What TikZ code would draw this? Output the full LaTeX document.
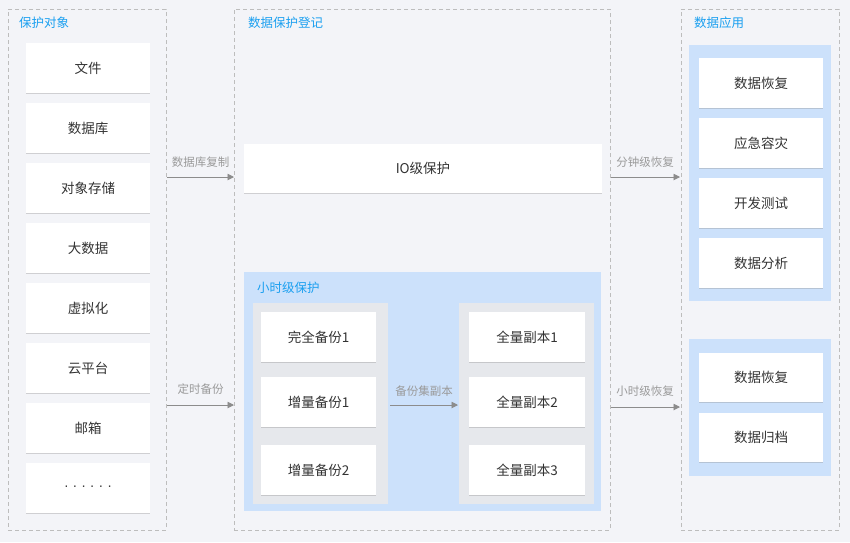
\documentclass[tikz,border=0pt]{standalone}
\usepackage{fontspec}
\setmainfont{Noto Sans CJK SC}
\newfontfamily\latf{Liberation Sans}
\usetikzlibrary{arrows.meta,shadows}
\definecolor{bgc}{HTML}{F3F4F8}
\definecolor{dashc}{HTML}{BDBDBD}
\definecolor{titc}{HTML}{1A9FF0}
\definecolor{txtc}{HTML}{333333}
\definecolor{lblc}{HTML}{9A9A9A}
\definecolor{arrc}{HTML}{8C8C8C}
\definecolor{bluep}{HTML}{CCE1FB}
\definecolor{grayp}{HTML}{E6E8EC}
\tikzset{
  container/.style={draw=dashc, line width=0.8pt, dash pattern=on 4pt off 3pt, inner sep=0pt},
  title/.style={text=titc, font=\fontsize{12.5}{14}\selectfont, anchor=west, inner sep=0pt},
  item/.style={fill=white, text=txtc, font=\fontsize{13.5}{15}\selectfont, inner sep=0pt,
    drop shadow={shadow xshift=0pt, shadow yshift=-1.2pt, opacity=0.35, fill=black!45}},
  panel/.style={inner sep=0pt},
  lbl/.style={text=lblc, font=\fontsize{11.5}{13}\selectfont, inner sep=0pt},
  arr/.style={draw=arrc, line width=0.9pt, -{Triangle[length=6.5pt,width=6.5pt]}}
}
\begin{document}
\begin{tikzpicture}[x=1pt,y=-1pt]
\fill[bgc] (0,0) rectangle (850,542);
\useasboundingbox (0,0) rectangle (850,542);
% containers
\node[container, minimum width=158pt, minimum height=521pt] (lc) at (87,269.5) {};
\node[container, minimum width=376pt, minimum height=521pt] (mc) at (422,269.5) {};
\node[container, minimum width=158pt, minimum height=521pt] (rc) at (760,269.5) {};
\node[title] (t1) at (19,23) {保护对象};
\node[title] (t2) at (248,23) {数据保护登记};
\node[title] (t3) at (694,23) {数据应用};
% left items
\foreach \i/\t in {0/文件,1/数据库,2/对象存储,3/大数据,4/虚拟化,5/云平台,6/邮箱}{
  \node[item, minimum width=124pt, minimum height=50pt] (l\i) at (88,{68+60*\i}) {\t};
}
\node[item, minimum width=124pt, minimum height=50pt] (l7) at (88,488) {\latf\fontsize{14}{15}\selectfont ·\hspace{4pt}·\hspace{4pt}·\hspace{4pt}·\hspace{4pt}·\hspace{4pt}·};
% IO
\node[item, minimum width=358pt, minimum height=49pt] (io) at (423,168.5) {IO级保护};
% hour panel
\node[panel, fill=bluep, minimum width=357pt, minimum height=239pt] (hp) at (422.5,391) {};
\node[title] (t4) at (257,288) {小时级保护};
\node[panel, fill=grayp, minimum width=135pt, minimum height=201pt] (gl) at (320.5,403) {};
\node[panel, fill=grayp, minimum width=135pt, minimum height=201pt] (gr) at (526.5,403) {};
\node[item, minimum width=115pt, minimum height=50pt] (b1) at (318.5,337) {完全备份1};
\node[item, minimum width=115pt, minimum height=50pt] (b2) at (318.5,402) {增量备份1};
\node[item, minimum width=115pt, minimum height=50pt] (b3) at (318.5,470) {增量备份2};
\node[item, minimum width=116pt, minimum height=50pt] (c1) at (527,337) {全量副本1};
\node[item, minimum width=116pt, minimum height=50pt] (c2) at (527,402) {全量副本2};
\node[item, minimum width=116pt, minimum height=50pt] (c3) at (527,470) {全量副本3};
% right panels
\node[panel, fill=bluep, minimum width=142pt, minimum height=256pt] (rp1) at (760,173) {};
\node[panel, fill=bluep, minimum width=142pt, minimum height=137pt] (rp2) at (760,407.5) {};
\foreach \i/\t in {0/数据恢复,1/应急容灾,2/开发测试,3/数据分析}{
  \node[item, minimum width=124pt, minimum height=50pt] (r\i) at (761,{83+60*\i}) {\t};
}
\node[item, minimum width=124pt, minimum height=49pt] (s0) at (761,377) {数据恢复};
\node[item, minimum width=124pt, minimum height=49pt] (s1) at (761,437) {数据归档};
% arrows
\coordinate (a1s) at (167,177); \coordinate (a1e) at (234,177);
\coordinate (a2s) at (167,405); \coordinate (a2e) at (234,405);
\coordinate (a3s) at (611,177); \coordinate (a3e) at (680,177);
\coordinate (a4s) at (611,407); \coordinate (a4e) at (680,407);
\coordinate (a5s) at (390,405); \coordinate (a5e) at (458,405);
\draw[arr] (a1s) -- (a1e);
\draw[arr] (a2s) -- (a2e);
\draw[arr] (a3s) -- (a3e);
\draw[arr] (a4s) -- (a4e);
\draw[arr] (a5s) -- (a5e);
\node[lbl] (k1) at (200.5,162) {数据库复制};
\node[lbl] (k2) at (200.5,389) {定时备份};
\node[lbl] (k3) at (645,162) {分钟级恢复};
\node[lbl] (k4) at (645,391.5) {小时级恢复};
\node[lbl] (k5) at (424,391) {备份集副本};
\end{tikzpicture}
\end{document}
